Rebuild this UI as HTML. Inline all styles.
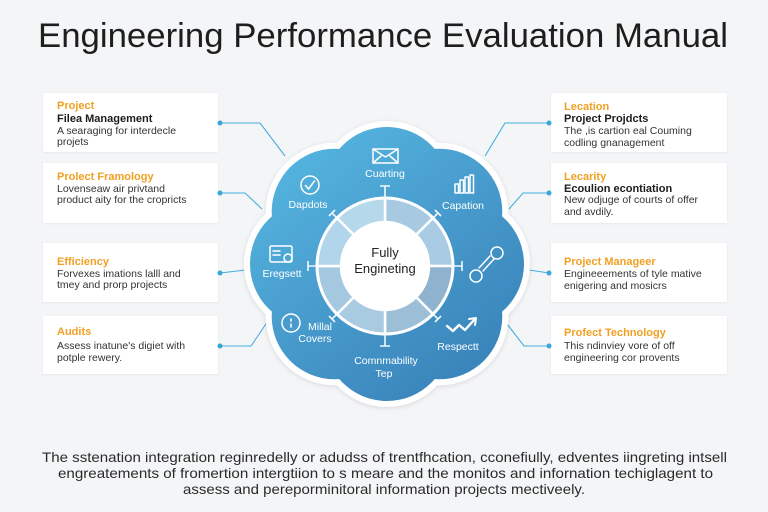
<!DOCTYPE html>
<html>
<head>
<meta charset="utf-8">
<style>
  html,body{margin:0;padding:0;background:#f4f5f7;}
  svg{display:block;}
  text{font-family:"Liberation Sans",sans-serif;}
  .ot{fill:#f0a023;font-size:11px;font-weight:bold;}
  .bt{fill:#1c1c1c;font-size:11px;font-weight:bold;}
  .dt{fill:#333;font-size:10.5px;}
  .wt{fill:#fff;font-size:10.5px;}
  .bot{fill:#2a2a2a;font-size:14px;}
</style>
</head>
<body>
<svg width="768" height="512" viewBox="0 0 768 512" xmlns="http://www.w3.org/2000/svg">
  <defs>
    <linearGradient id="cg" gradientUnits="userSpaceOnUse" x1="290" y1="140" x2="490" y2="400">
      <stop offset="0" stop-color="#55b6e0"/>
      <stop offset="0.55" stop-color="#4596c9"/>
      <stop offset="1" stop-color="#3680b7"/>
    </linearGradient>
    <filter id="sh" x="-20%" y="-20%" width="140%" height="140%">
      <feDropShadow dx="0" dy="1" stdDeviation="2.5" flood-color="#000" flood-opacity="0.12"/>
    </filter>
    <filter id="csh" x="-20%" y="-20%" width="140%" height="140%">
      <feDropShadow dx="0" dy="0.5" stdDeviation="1" flood-color="#000" flood-opacity="0.07"/>
    </filter>
  </defs>

  <rect width="768" height="512" fill="#f4f5f7"/>

  <!-- Title -->
  <text x="38" y="47" font-size="34" fill="#1e1e1e" textLength="690" lengthAdjust="spacingAndGlyphs">Engineering Performance Evaluation Manual</text>

  <!-- Cards -->
  <g fill="#fff" filter="url(#csh)">
    <rect x="43" y="93" width="175" height="59" rx="1.5"/>
    <rect x="43" y="163" width="175" height="60" rx="1.5"/>
    <rect x="43" y="243" width="175" height="59" rx="1.5"/>
    <rect x="43" y="316" width="175" height="58" rx="1.5"/>
    <rect x="551" y="93" width="176" height="59" rx="1.5"/>
    <rect x="551" y="163" width="176" height="60" rx="1.5"/>
    <rect x="551" y="243" width="176" height="59" rx="1.5"/>
    <rect x="551" y="316" width="176" height="58" rx="1.5"/>
  </g>

  <!-- Left card texts -->
  <text x="57" y="109" class="ot">Project</text>
  <text x="57" y="122" class="bt">Filea Management</text>
  <text x="57" y="134" class="dt">A searaging for interdecle</text>
  <text x="57" y="145" class="dt">projets</text>

  <text x="57" y="180" class="ot">Prolect Framology</text>
  <text x="57" y="192" class="dt">Lovenseaw air privtand</text>
  <text x="57" y="203" class="dt">product aity for the cropricts</text>

  <text x="57" y="265" class="ot">Efficiency</text>
  <text x="57" y="277" class="dt">Forvexes imations lalll and</text>
  <text x="57" y="288" class="dt">tmey and prorp projects</text>

  <text x="57" y="335" class="ot">Audits</text>
  <text x="57" y="349" class="dt">Assess inatune's digiet with</text>
  <text x="57" y="361" class="dt">potple rewery.</text>

  <!-- Right card texts -->
  <text x="564" y="110" class="ot">Lecation</text>
  <text x="564" y="122" class="bt">Project Projdcts</text>
  <text x="564" y="134" class="dt">The ,is cartion eal Couming</text>
  <text x="564" y="146" class="dt">codling gnanagement</text>

  <text x="564" y="180" class="ot">Lecarity</text>
  <text x="564" y="192" class="bt">Ecoulion econtiation</text>
  <text x="564" y="203" class="dt">New odjuge of courts of offer</text>
  <text x="564" y="215" class="dt">and avdily.</text>

  <text x="564" y="265" class="ot">Project Manageer</text>
  <text x="564" y="277" class="dt">Engineeements of tyle mative</text>
  <text x="564" y="289" class="dt">enigering and mosicrs</text>

  <text x="564" y="336" class="ot">Profect Technology</text>
  <text x="564" y="349" class="dt">This ndinviey vore of off</text>
  <text x="564" y="361" class="dt">engineering cor provents</text>

  <!-- Connectors -->
  <g stroke="#45aedd" stroke-width="1.1" fill="none">
    <path d="M220,123 H260 L285,156"/>
    <path d="M220,193 H245 L262,209"/>
    <path d="M220,273 L246,270"/>
    <path d="M220,346 H251 L270,318"/>
    <path d="M549,123 H505 L485,156"/>
    <path d="M549,193 H523 L509,209"/>
    <path d="M549,273 L529,270"/>
    <path d="M549,346 H524 L504,320"/>
  </g>
  <g fill="#3aa6d8">
    <circle cx="220" cy="123" r="2.5"/><circle cx="220" cy="193" r="2.5"/>
    <circle cx="220" cy="273" r="2.5"/><circle cx="220" cy="346" r="2.5"/>
    <circle cx="549" cy="123" r="2.5"/><circle cx="549" cy="193" r="2.5"/>
    <circle cx="549" cy="273" r="2.5"/><circle cx="549" cy="346" r="2.5"/>
  </g>

  <!-- Cloud white border -->
  <g fill="#ffffff" filter="url(#sh)">
    <circle cx="387" cy="264" r="104"/>
    <circle cx="461" cy="264" r="69"/>
    <circle cx="439.3" cy="316.3" r="69"/>
    <circle cx="387" cy="338" r="69"/>
    <circle cx="334.7" cy="316.3" r="69"/>
    <circle cx="313" cy="264" r="69"/>
    <circle cx="334.7" cy="211.7" r="69"/>
    <circle cx="387" cy="190" r="69"/>
    <circle cx="439.3" cy="211.7" r="69"/>
  </g>
  <!-- Cloud blue -->
  <g fill="url(#cg)">
    <circle cx="387" cy="264" r="98"/>
    <circle cx="461" cy="264" r="63"/>
    <circle cx="439.3" cy="316.3" r="63"/>
    <circle cx="387" cy="338" r="63"/>
    <circle cx="334.7" cy="316.3" r="63"/>
    <circle cx="313" cy="264" r="63"/>
    <circle cx="334.7" cy="211.7" r="63"/>
    <circle cx="387" cy="190" r="63"/>
    <circle cx="439.3" cy="211.7" r="63"/>
  </g>

  <!-- Ring segments -->
  <g stroke="#ffffff" stroke-width="2.5" stroke-linejoin="round">
    <path d="M385,198 A68,68 0 0 1 433.08,217.92 L416.11,234.89 A44,44 0 0 0 385,222 Z" fill="#a7c9e2"/>
    <path d="M433.08,217.92 A68,68 0 0 1 453,266 L429,266 A44,44 0 0 0 416.11,234.89 Z" fill="#a9cbe3"/>
    <path d="M453,266 A68,68 0 0 1 433.08,314.08 L416.11,297.11 A44,44 0 0 0 429,266 Z" fill="#8fb3cf"/>
    <path d="M433.08,314.08 A68,68 0 0 1 385,334 L385,310 A44,44 0 0 0 416.11,297.11 Z" fill="#9cbed7"/>
    <path d="M385,334 A68,68 0 0 1 336.92,314.08 L353.89,297.11 A44,44 0 0 0 385,310 Z" fill="#a9cbe1"/>
    <path d="M336.92,314.08 A68,68 0 0 1 317,266 L341,266 A44,44 0 0 0 353.89,297.11 Z" fill="#a4c8e0"/>
    <path d="M317,266 A68,68 0 0 1 336.92,217.92 L353.89,234.89 A44,44 0 0 0 341,266 Z" fill="#b1d5ea"/>
    <path d="M336.92,217.92 A68,68 0 0 1 385,198 L385,222 A44,44 0 0 0 353.89,234.89 Z" fill="#b5d8eb"/>
  </g>
  <circle cx="385" cy="266" r="68" fill="none" stroke="#fff" stroke-width="3"/>
  <circle cx="385" cy="266" r="44" fill="#ffffff"/>

  <!-- Ticks -->
  <g stroke="#f2f8fc" stroke-width="1.6" fill="none">
    <path d="M385,198 V186 M380,186 H390"/>
    <path d="M385,334 V346 M380,346 H390"/>
    <path d="M317,266 H308 M308,261 V271"/>
    <path d="M453,266 H462 M462,261 V271"/>
    <path d="M336.92,217.92 L332,213 M329,216 L335,210"/>
    <path d="M433.08,217.92 L438,213 M435,210 L441,216"/>
    <path d="M336.92,314.08 L332,319 M329,316 L335,322"/>
    <path d="M433.08,314.08 L438,319 M435,322 L441,316"/>
  </g>

  <!-- Center text -->
  <text x="385" y="257" text-anchor="middle" font-size="13" fill="#222">Fully</text>
  <text x="385" y="273" text-anchor="middle" font-size="13" fill="#222">Engineting</text>

  <!-- Icons -->
  <g stroke="#ffffff" stroke-width="1.5" fill="none" stroke-linecap="round" stroke-linejoin="round">
    <rect x="373" y="149" width="25" height="14"/>
    <polyline points="373,149 385.5,157 398,149"/>
    <path d="M373,163 L381,156 M398,163 L390,156"/>
    <circle cx="310" cy="185" r="9"/>
    <path d="M305.5,185.5 L308.5,189 L314.5,181"/>
    <rect x="455" y="184" width="3.5" height="9"/>
    <rect x="460" y="180" width="3.5" height="13"/>
    <rect x="465" y="177" width="3.5" height="16"/>
    <rect x="470" y="175" width="3.5" height="18"/>
    <rect x="270" y="246" width="22" height="16" rx="1.5"/>
    <path d="M273,251 H280 M273,255 H280"/>
    <circle cx="288" cy="258" r="4"/>
    <circle cx="497" cy="253" r="6"/>
    <circle cx="476" cy="276" r="6"/>
    <path d="M490,256 L479,268 M494,259 L483,271"/>
    <circle cx="291" cy="323" r="9"/>
    <path d="M291,319 V321 M291,324 V327"/>
    <polyline points="447,326 453,331 459,325 465,330 474,320" stroke-width="2.4"/>
    <path d="M469,319 L476,318 L475,325" stroke-width="2"/>
  </g>

  <!-- Cloud labels -->
  <text x="385" y="177" text-anchor="middle" class="wt">Cuarting</text>
  <text x="308" y="208" text-anchor="middle" class="wt">Dapdots</text>
  <text x="463" y="209" text-anchor="middle" class="wt">Capation</text>
  <text x="282" y="277" text-anchor="middle" class="wt">Eregsett</text>
  <text x="320" y="330" text-anchor="middle" class="wt">Millal</text>
  <text x="315" y="342" text-anchor="middle" class="wt">Covers</text>
  <text x="386" y="364" text-anchor="middle" class="wt">Comnmability</text>
  <text x="384" y="377" text-anchor="middle" class="wt">Tep</text>
  <text x="458" y="350" text-anchor="middle" class="wt">Respectt</text>

  <!-- Bottom paragraph -->
  <text x="42" y="462" class="bot" textLength="685" lengthAdjust="spacingAndGlyphs">The sstenation integration reginredelly or adudss of trentfhcation, cconefiully, edventes iingreting intsell</text>
  <text x="58" y="478" class="bot" textLength="655" lengthAdjust="spacingAndGlyphs">engreatements of fromertion intergtiion to s meare and the monitos and infornation techiglagent to</text>
  <text x="183" y="494" class="bot" textLength="402" lengthAdjust="spacingAndGlyphs">assess and pereporminitoral information projects mectiveely.</text>
</svg>
</body>
</html>
